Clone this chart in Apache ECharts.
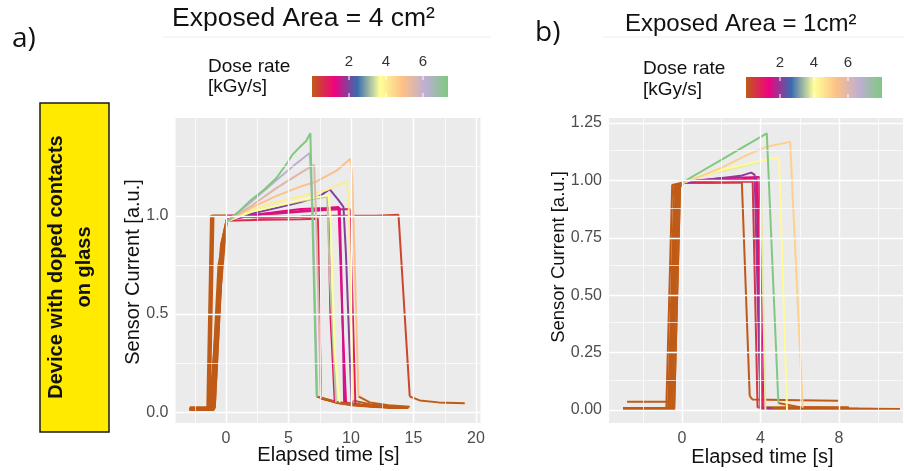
<!DOCTYPE html>
<html>
<head>
<meta charset="utf-8">
<script src="https://cdn.jsdelivr.net/npm/echarts@6/dist/echarts.min.js"></script>
<style>
  html, body { margin: 0; padding: 0; background: #fff; }
  #chart { width: 904px; height: 471px; }
</style>
</head>
<body>
<div id="chart"></div>
<script>
// ---------------- Panel a: exposed area 4 cm² ----------------
const doseA = [0.3, 0.6, 1.0, 1.2, 0.85, 1.45, 1.95, 3.2, 3.7, 4.05, 4.9, 5.5, 6.1, 7.35];
const timeA = [
  [-2.9, -1.3, -1.0, 0.0, 3.0, 6.0, 9.0, 12.0, 13.8, 14.7, 15.5, 17.0, 19.1],
  [-2.9, -1.0, -0.3, 0.05, 3.0, 6.0, 7.35, 7.6, 9.0, 11.0, 13.0, 14.5],
  [-2.9, -1.5, -1.2, 0.0, 3.0, 6.0, 8.2, 8.35, 8.7, 10.0, 12.0, 13.5],
  [-2.9, -1.1, -0.4, 0.05, 2.0, 4.0, 6.0, 8.0, 9.0, 9.3, 9.6, 11.0, 13.0, 14.0],
  [-2.9, -1.4, -1.1, 0.0, 2.0, 4.0, 6.0, 8.0, 9.9, 10.1, 10.35, 11.5, 13.0, 14.6],
  [-2.9, -0.9, -0.2, 0.05, 3.0, 6.0, 8.0, 9.1, 9.35, 9.45, 11.0, 13.2],
  [-2.9, -1.0, -0.3, 0.05, 2.0, 4.0, 6.0, 7.5, 8.3, 9.0, 9.4, 9.6, 10.05, 11.5, 13.0, 14.2],
  [-2.9, -1.2, -0.6, 0.05, 2.0, 4.0, 6.0, 7.8, 8.1, 8.3, 8.8, 10.5, 12.5, 13.8],
  [-2.9, -0.9, -0.2, 0.05, 2.0, 4.0, 6.0, 8.2, 8.35, 8.7, 9.1, 10.5, 12.5, 13.8],
  [-2.9, -1.0, -0.3, 0.05, 2.0, 4.0, 6.0, 8.0, 9.65, 9.8, 10.15, 11.5, 13.0, 14.3],
  [-2.9, -1.1, -0.4, 0.05, 2.0, 4.0, 6.0, 7.25, 8.85, 9.95, 10.1, 10.6, 11.5, 13.0, 14.7],
  [-2.9, -1.0, -0.3, 0.05, 2.0, 4.0, 6.0, 7.05, 7.2, 7.6, 9.0, 11.0, 13.0],
  [-2.9, -1.3, -0.5, 0.05, 2.0, 4.0, 5.5, 6.7, 6.95, 7.3, 9.0, 11.0, 13.2],
  [-2.9, -1.1, -0.6, 0.05, 1.0, 2.0, 3.0, 4.0, 4.8, 5.3, 5.9, 6.4, 6.75, 7.25, 8.5, 10.0, 12.0, 13.5]
];
const currentA = [
  [0.02, 0.02, 1.0, 1.0, 0.995, 0.997, 1.0, 1.0, 1.005, 0.08, 0.06, 0.05, 0.045],
  [0.012, 0.012, 0.8, 0.975, 0.98, 0.982, 0.985, 0.07, 0.045, 0.032, 0.025, 0.022],
  [0.015, 0.015, 1.0, 1.0, 0.99, 0.995, 1.0, 0.5, 0.05, 0.035, 0.027, 0.022],
  [0.02, 0.02, 0.85, 0.98, 1.0, 1.02, 1.035, 1.04, 1.045, 0.5, 0.05, 0.035, 0.025, 0.022],
  [0.012, 0.012, 1.0, 1.0, 1.005, 1.01, 1.02, 1.03, 1.035, 0.6, 0.04, 0.032, 0.026, 0.022],
  [0.025, 0.025, 0.9, 0.98, 1.01, 1.025, 1.035, 1.04, 0.4, 0.05, 0.035, 0.024],
  [0.012, 0.012, 0.8, 0.975, 1.01, 1.04, 1.07, 1.10, 1.135, 1.08, 1.045, 0.8, 0.04, 0.03, 0.025, 0.022],
  [0.015, 0.015, 0.75, 0.97, 1.02, 1.05, 1.075, 1.095, 1.10, 0.7, 0.05, 0.035, 0.027, 0.023],
  [0.02, 0.02, 0.9, 0.97, 1.02, 1.05, 1.08, 1.105, 1.0, 0.3, 0.05, 0.038, 0.028, 0.024],
  [0.012, 0.012, 0.8, 0.97, 1.03, 1.07, 1.10, 1.13, 1.175, 1.1, 0.06, 0.04, 0.03, 0.025],
  [0.018, 0.018, 0.85, 0.97, 1.04, 1.10, 1.15, 1.175, 1.23, 1.29, 1.2, 0.08, 0.05, 0.035, 0.028],
  [0.015, 0.015, 0.8, 0.97, 1.05, 1.14, 1.22, 1.26, 1.0, 0.07, 0.05, 0.035, 0.027],
  [0.015, 0.015, 0.7, 0.97, 1.07, 1.18, 1.26, 1.32, 1.0, 0.08, 0.05, 0.035, 0.026],
  [0.012, 0.012, 0.5, 0.97, 1.02, 1.08, 1.13, 1.19, 1.26, 1.31, 1.35, 1.38, 1.42, 0.08, 0.055, 0.04, 0.03, 0.026]
];
// [first, last] point index of the irradiated stretch of each trace
const beamA = [[3, 9], [3, 7], [3, 8], [3, 10], [3, 10], [3, 9], [3, 12], [3, 10], [3, 10], [3, 10], [3, 11], [3, 9], [3, 9], [3, 13]];
const doseMaxA = 7.35;
const xTicksA = [0, 5, 10, 15, 20];
const xMinorA = [-2.5, 2.5, 7.5, 12.5, 17.5];
const yTicksA = [0, 0.5, 1.0];
const yMinorA = [0.25, 0.75, 1.25];

// ---------------- Panel b: exposed area 1 cm² ----------------
const doseB = [0.05, 0.6, 1.2, 0.95, 1.5, 2.0, 3.8, 4.1, 5.0, 8.0];
const timeB = [
  [-2.8, -0.6, -0.3, 0.1, 1.5, 3.05, 3.45, 3.6, 6.0, 7.95],
  [-3.0, -0.8, -0.5, 0.0, 1.5, 3.6, 3.85, 5.0, 8.5],
  [-3.0, -0.5, -0.2, 0.05, 1.5, 3.0, 3.8, 4.0, 6.0, 9.0, 11.1],
  [-3.0, -0.7, -0.4, 0.0, 2.0, 3.85, 4.1, 6.5, 9.0],
  [-3.0, -0.4, -0.1, 0.1, 2.0, 3.95, 4.2, 6.0, 10.0],
  [-3.0, -0.6, -0.3, 0.05, 1.5, 3.0, 3.52, 3.7, 4.0, 4.6, 7.0, 11.1],
  [-3.0, -0.5, -0.2, 0.05, 1.0, 2.0, 3.0, 3.9, 4.0, 4.25, 6.0, 9.0],
  [-3.0, -0.7, -0.3, 0.05, 1.0, 2.0, 3.0, 3.8, 4.83, 4.95, 5.35, 7.0, 10.0],
  [-3.0, -0.4, -0.1, 0.07, 1.0, 2.0, 3.3, 4.32, 5.51, 5.6, 6.15, 8.0, 11.1],
  [-3.0, -0.6, -0.2, 0.07, 1.0, 2.0, 3.0, 4.32, 4.91, 6.0, 8.5]
];
const currentB = [
  [0.036, 0.036, 0.98, 0.99, 0.99, 0.99, 0.06, 0.045, 0.042, 0.04],
  [0.008, 0.008, 0.98, 0.99, 0.99, 0.995, 0.01, 0.012, 0.012],
  [0.005, 0.005, 0.97, 0.995, 1.0, 1.005, 1.01, 0.005, 0.004, 0.003, 0.003],
  [0.006, 0.006, 0.975, 0.99, 1.0, 1.0, 0.005, 0.005, 0.005],
  [0.004, 0.004, 0.97, 0.995, 1.01, 1.015, 0.006, 0.006, 0.004],
  [0.007, 0.007, 0.97, 0.99, 1.005, 1.02, 1.034, 1.025, 0.01, 0.008, 0.005, 0.004],
  [0.005, 0.005, 0.97, 0.99, 1.02, 1.04, 1.06, 1.08, 1.07, 0.0, 0.004, 0.004],
  [0.006, 0.006, 0.97, 0.99, 1.02, 1.045, 1.065, 1.081, 1.10, 1.09, 0.0, 0.005, 0.004],
  [0.005, 0.005, 0.97, 0.99, 1.02, 1.055, 1.11, 1.147, 1.168, 1.16, 0.01, 0.006, 0.004],
  [0.006, 0.006, 0.97, 0.994, 1.04, 1.09, 1.14, 1.205, 0.03, 0.012, 0.008]
];
const beamB = [[2, 6], [3, 6], [3, 7], [3, 6], [3, 6], [3, 9], [3, 9], [3, 10], [3, 10], [3, 8]];
const doseMaxB = 8.0;
const xTicksB = [0, 4, 8];
const xMinorB = [-2, 2, 6, 10];
const yTicksB = [0, 0.25, 0.5, 0.75, 1.0, 1.25];
const yMinorB = [0.125, 0.375, 0.625, 0.875, 1.125];

// Colour-bar ticks (kGy/s)
const doseTicks = [2, 4, 6];

// Dose-rate palette, low to high
const paletteStops = ['#BF5B17', '#F0027F', '#386CB0', '#FFFF99', '#FDC086', '#BEAED4', '#7FC97F'];

function hexToRgb(h) {
  return [parseInt(h.slice(1, 3), 16), parseInt(h.slice(3, 5), 16), parseInt(h.slice(5, 7), 16)];
}
function doseColor(d, max) {
  const t = Math.max(0, Math.min(1, d / max)) * (paletteStops.length - 1);
  const i = Math.min(Math.floor(t), paletteStops.length - 2);
  const f = t - i;
  const a = hexToRgb(paletteStops[i]), b = hexToRgb(paletteStops[i + 1]);
  const c = a.map((v, k) => Math.round(v + (b[k] - v) * f));
  return 'rgb(' + c.join(',') + ')';
}
const BASE = paletteStops[0];

function lineSeries(points, color, gi, z) {
  return {
    type: 'line', xAxisIndex: gi, yAxisIndex: gi, data: points,
    showSymbol: false, symbol: 'none', silent: true, animation: false, z: z,
    lineStyle: { color: color, width: 2 }
  };
}

function traceSeries(times, currents, doses, beams, maxDose, gi) {
  const base = [], colored = [];
  times.forEach((t, i) => {
    const pts = t.map((v, k) => [v, currents[i][k]]);
    const on = beams[i][0], end = beams[i][1];
    base.push(lineSeries(pts.slice(0, on + 1), BASE, gi, 2));
    base.push(lineSeries(pts.slice(end), BASE, gi, 2));
    colored.push({ d: doses[i], s: lineSeries(pts.slice(on, end + 1), doseColor(doses[i], maxDose), gi, 3) });
  });
  colored.sort((a, b) => a.d - b.d);
  return base.concat(colored.map(c => c.s));
}

function gridLines(gi, xMaj, xMin, yMaj, yMin) {
  const data = [];
  xMin.forEach(v => data.push({ xAxis: v, lineStyle: { width: 0.7 } }));
  yMin.forEach(v => data.push({ yAxis: v, lineStyle: { width: 0.7 } }));
  xMaj.forEach(v => data.push({ xAxis: v, lineStyle: { width: 1.4 } }));
  yMaj.forEach(v => data.push({ yAxis: v, lineStyle: { width: 1.4 } }));
  return {
    type: 'line', xAxisIndex: gi, yAxisIndex: gi, data: [], silent: true, z: 1,
    markLine: {
      silent: true, animation: false, symbol: ['none', 'none'],
      label: { show: false }, emphasis: { disabled: true },
      lineStyle: { color: '#ffffff', type: 'solid', width: 1.4 },
      data: data
    }
  };
}

function colorBar(gi, maxDose) {
  return {
    type: 'custom', xAxisIndex: gi, yAxisIndex: gi, silent: true, animation: false,
    data: [[0, 0]],
    renderItem: function (params, api) {
      const p0 = api.coord([0, 1]);
      const p1 = api.coord([maxDose, 0]);
      const stops = paletteStops.map((c, k) => ({ offset: k / (paletteStops.length - 1), color: c }));
      const children = [{
        type: 'rect',
        shape: { x: p0[0], y: p0[1], width: p1[0] - p0[0], height: p1[1] - p0[1] },
        style: { fill: { type: 'linear', x: 0, y: 0, x2: 1, y2: 0, colorStops: stops } }
      }];
      doseTicks.forEach(v => {
        const x = api.coord([v, 0])[0];
        children.push({ type: 'line', shape: { x1: x, y1: p0[1], x2: x, y2: p0[1] + 4 }, style: { stroke: '#fff', lineWidth: 1 } });
        children.push({ type: 'line', shape: { x1: x, y1: p1[1] - 4, x2: x, y2: p1[1] }, style: { stroke: '#fff', lineWidth: 1 } });
      });
      return { type: 'group', children: children };
    }
  };
}

const FONT = 'Liberation Sans';
const tickStyle = { show: true, length: 4, lineStyle: { color: '#333', width: 1 } };

function valueXAxis(gi, min, max, ticks) {
  return {
    type: 'value', gridIndex: gi, min: min, max: max,
    axisLine: { show: false }, splitLine: { show: false },
    axisTick: Object.assign({ customValues: ticks }, tickStyle),
    axisLabel: { customValues: ticks, color: '#4D4D4D', fontSize: 16, margin: 8, fontFamily: FONT }
  };
}
function valueYAxis(gi, min, max, ticks, digits) {
  return {
    type: 'value', gridIndex: gi, min: min, max: max,
    axisLine: { show: false }, splitLine: { show: false },
    axisTick: Object.assign({ customValues: ticks }, tickStyle),
    axisLabel: { customValues: ticks, color: '#4D4D4D', fontSize: 16, margin: 7, fontFamily: FONT,
      formatter: v => Number(v).toFixed(digits) }
  };
}
function barXAxis(gi, max) {
  return {
    type: 'value', gridIndex: gi, min: 0, max: max, position: 'top',
    axisLine: { show: false }, axisTick: { show: false }, splitLine: { show: false },
    axisLabel: { customValues: doseTicks, color: '#333', fontSize: 15, margin: 7, fontFamily: FONT }
  };
}
function barYAxis(gi) {
  return { type: 'value', gridIndex: gi, min: 0, max: 1, show: false };
}

function label(text, x, y, size, rot, extra) {
  return {
    type: 'text', x: x, y: y, rotation: rot || 0,
    style: Object.assign({ text: text, fontSize: size, fontFamily: FONT, fill: '#111',
      align: 'center', verticalAlign: 'middle' }, extra || {})
  };
}

const option = {
  animation: false,
  textStyle: { fontFamily: FONT },
  grid: [
    { left: 175.5, top: 118, width: 305, height: 305, show: true, backgroundColor: '#EBEBEB', borderWidth: 0, outerBoundsMode: 'none' },
    { left: 609, top: 118, width: 294, height: 305, show: true, backgroundColor: '#EBEBEB', borderWidth: 0, outerBoundsMode: 'none' },
    { left: 312, top: 76, width: 136, height: 21, outerBoundsMode: 'none' },
    { left: 746, top: 77, width: 136, height: 21, outerBoundsMode: 'none' }
  ],
  xAxis: [
    valueXAxis(0, -4.04, 20.36, xTicksA),
    valueXAxis(1, -3.72, 11.26, xTicksB),
    barXAxis(2, doseMaxA),
    barXAxis(3, doseMaxB)
  ],
  yAxis: [
    valueYAxis(0, -0.055, 1.498, yTicksA, 1),
    valueYAxis(1, -0.057, 1.272, yTicksB, 2),
    barYAxis(2),
    barYAxis(3)
  ],
  series: [].concat(
    [gridLines(0, xTicksA, xMinorA, yTicksA, yMinorA), gridLines(1, xTicksB, xMinorB, yTicksB, yMinorB)],
    traceSeries(timeA, currentA, doseA, beamA, doseMaxA, 0),
    traceSeries(timeB, currentB, doseB, beamB, doseMaxB, 1),
    [colorBar(2, doseMaxA), colorBar(3, doseMaxB)]
  ),
  graphic: [
    { type: 'text', left: 12, top: 25, style: { text: 'a)', fontSize: 28, fontFamily: 'Open Sans', fill: '#111' } },
    { type: 'text', left: 535, top: 19, style: { text: 'b)', fontSize: 28, fontFamily: 'Open Sans', fill: '#111' } },
    { type: 'text', left: 172, top: 5, style: { text: 'Exposed Area = 4 cm²', fontSize: 26.5, fontFamily: FONT, fill: '#111' } },
    { type: 'text', left: 625, top: 12, style: { text: 'Exposed Area = 1cm²', fontSize: 24, fontFamily: FONT, fill: '#111' } },
    { type: 'line', shape: { x1: 163, y1: 37, x2: 490, y2: 37 }, style: { stroke: '#EDEDED', lineWidth: 1 } },
    { type: 'line', shape: { x1: 603, y1: 37, x2: 904, y2: 37 }, style: { stroke: '#EDEDED', lineWidth: 1 } },
    { type: 'text', left: 208, top: 57, style: { text: 'Dose rate\n[kGy/s]', fontSize: 19, lineHeight: 20, fontFamily: FONT, fill: '#111' } },
    { type: 'text', left: 643, top: 58, style: { text: 'Dose rate\n[kGy/s]', fontSize: 19, lineHeight: 21, fontFamily: FONT, fill: '#111' } },
    label('Elapsed time [s]', 328.5, 455, 20),
    label('Elapsed time [s]', 762.5, 457, 20),
    label('Sensor Current [a.u.]', 133, 272, 20, Math.PI / 2),
    label('Sensor Current [a.u.]', 559, 257, 18.5, Math.PI / 2),
    { type: 'rect', shape: { x: 40, y: 103, width: 69, height: 329 },
      style: { fill: '#FFEA00', stroke: '#1a1a1a', lineWidth: 1.5 } },
    label('Device with doped contacts\non glass', 70, 267, 20, Math.PI / 2, { fontWeight: 'bold', lineHeight: 28 })
  ]
};

const chart = echarts.init(document.getElementById('chart'), null, { renderer: 'canvas' });
chart.setOption(option);
</script>
</body>
</html>
